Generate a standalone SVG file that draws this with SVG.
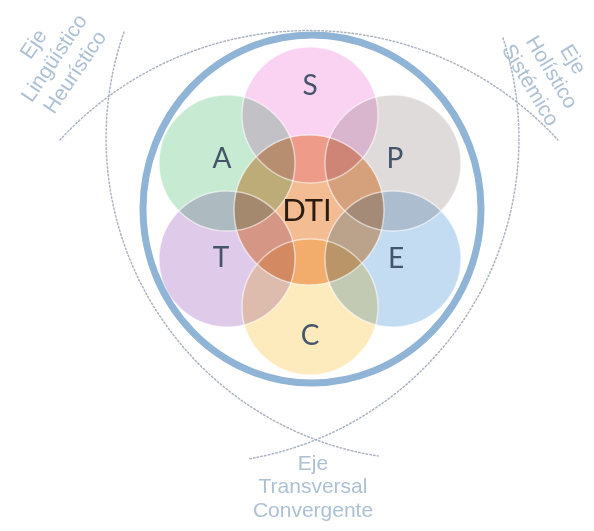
<svg xmlns="http://www.w3.org/2000/svg" width="594" height="531" viewBox="0 0 594 531">
<defs>
<style>
.lens{mix-blend-mode:multiply}
.edge{fill:none;stroke:#ffffff;stroke-opacity:0.55;stroke-width:1.5}
.ltr{font-family:Lato,"Open Sans","Liberation Sans",sans-serif;font-size:28px;fill:#44546a;text-anchor:middle}
.axis{fill:none;stroke:#aab3c0;stroke-width:1.5;stroke-dasharray:1.5 2.3;stroke-linecap:round}
.lab{font-family:"Liberation Sans",Arial,sans-serif;font-size:21px;fill:#adc0d4;text-anchor:middle}
</style>
</defs>
<rect width="594" height="531" fill="#ffffff"/>
<g id="connectors">
<path class="axis" d="M 60 140 A 338 338 0 0 1 558 140"/>
<path class="axis" d="M 124 32 A 322 322 0 0 0 378 456"/>
<path class="axis" d="M 503 38 A 325 325 0 0 1 248 459"/>
</g>
<g id="circles">
<g id="node-S"><circle class="lens" cx="310" cy="115" r="68" fill="#f9d3f1"/></g>
<g id="node-A"><circle class="lens" cx="227" cy="163" r="68" fill="#c6ead2"/></g>
<g id="node-P"><circle class="lens" cx="393" cy="163" r="68" fill="#dfdbda"/></g>
<g id="node-T"><circle class="lens" cx="227" cy="259" r="68" fill="#dfcbe9"/></g>
<g id="node-E"><circle class="lens" cx="393" cy="259" r="68" fill="#c4dcf2"/></g>
<g id="node-C"><circle class="lens" cx="310" cy="307" r="68" fill="#fdebbd"/></g>
<g id="node-DTI"><circle class="lens" cx="309" cy="210" r="75" fill="#f4bc92"/></g>
</g>
<g id="edges">
<circle class="edge" cx="310" cy="115" r="68"/>
<circle class="edge" cx="227" cy="163" r="68"/>
<circle class="edge" cx="393" cy="163" r="68"/>
<circle class="edge" cx="227" cy="259" r="68"/>
<circle class="edge" cx="393" cy="259" r="68"/>
<circle class="edge" cx="310" cy="307" r="68"/>
<circle class="edge" cx="309" cy="210" r="75"/>
</g>
<g id="ring"><ellipse cx="312" cy="209" rx="169" ry="174" fill="none" stroke="#8fb4d6" stroke-width="7"/></g>
<g id="labels">
<text class="ltr" x="310" y="95">S</text>
<text class="ltr" x="222" y="168">A</text>
<text class="ltr" x="395" y="168">P</text>
<text class="ltr" x="221" y="267">T</text>
<text class="ltr" x="396" y="268">E</text>
<text class="ltr" x="310" y="345">C</text>
<text class="ltr" x="307" y="221" style="font-size:31px;fill:#2a1c12">DTI</text>
</g>
<g id="axis-left" transform="translate(54,58) rotate(-56)">
<text class="lab" x="0" y="-18">Eje</text>
<text class="lab" x="0" y="7">Lingüístico</text>
<text class="lab" x="0" y="32">Heurístico</text>
</g>
<g id="axis-right" transform="translate(552,72) rotate(59)">
<text class="lab" x="0" y="-18">Eje</text>
<text class="lab" x="0" y="7">Holístico</text>
<text class="lab" x="0" y="32">Sistémico</text>
</g>
<g id="axis-bottom">
<text class="lab" x="313" y="470">Eje</text>
<text class="lab" x="313" y="493">Transversal</text>
<text class="lab" x="313" y="517">Convergente</text>
</g>
</svg>
